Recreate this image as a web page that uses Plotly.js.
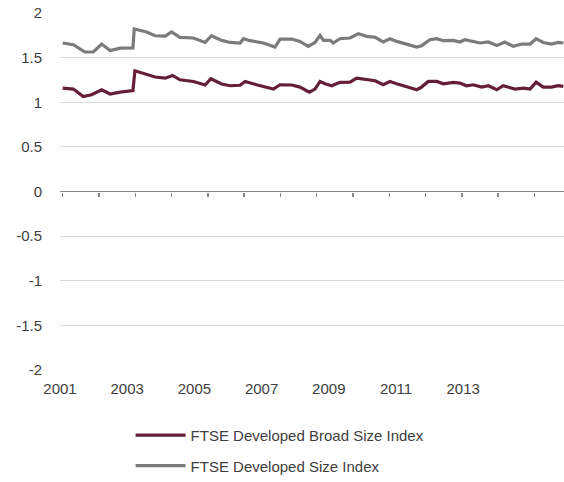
<!DOCTYPE html>
<html>
<head>
<meta charset="utf-8">
<script src="https://cdn.plot.ly/plotly-3.0.1.min.js"></script>
<style>html,body{margin:0;padding:0;background:#fff;}#chart{width:564px;height:482px;}</style>
</head>
<body>
<div id="chart"></div>
<script>
// Series: FTSE Developed Broad Size Index (fractional years, values)
const broadYears = [2001.08,2001.40,2001.69,2001.94,2002.24,2002.49,2002.79,2003.08,2003.17,2003.23,2003.58,2003.83,2004.13,2004.35,2004.57,2004.97,2005.32,2005.49,2005.81,2006.06,2006.36,2006.51,2006.85,2007.35,2007.55,2007.90,2008.14,2008.42,2008.59,2008.74,2008.89,2009.09,2009.33,2009.63,2009.83,2010.13,2010.38,2010.62,2010.82,2011.02,2011.32,2011.62,2011.76,2011.96,2012.21,2012.41,2012.71,2012.90,2013.10,2013.30,2013.55,2013.75,2014.00,2014.19,2014.54,2014.79,2014.99,2015.17,2015.38,2015.63,2015.83,2015.98];
const broadValues = [1.159,1.148,1.065,1.084,1.140,1.092,1.114,1.129,1.130,1.353,1.308,1.283,1.270,1.300,1.252,1.233,1.193,1.263,1.204,1.185,1.190,1.233,1.196,1.148,1.196,1.193,1.170,1.114,1.148,1.233,1.207,1.185,1.223,1.226,1.271,1.252,1.241,1.196,1.233,1.207,1.170,1.140,1.170,1.233,1.233,1.207,1.223,1.215,1.185,1.196,1.170,1.185,1.140,1.185,1.148,1.159,1.148,1.226,1.170,1.170,1.185,1.178];

// Series: FTSE Developed Size Index
const sizeYears = [2001.08,2001.40,2001.74,2001.99,2002.24,2002.49,2002.79,2003.08,2003.17,2003.21,2003.58,2003.83,2004.13,2004.32,2004.57,2004.97,2005.32,2005.51,2005.81,2006.06,2006.36,2006.46,2006.65,2007.05,2007.40,2007.55,2007.90,2008.14,2008.39,2008.59,2008.74,2008.84,2009.04,2009.13,2009.33,2009.63,2009.88,2010.13,2010.38,2010.62,2010.82,2011.02,2011.32,2011.62,2011.76,2012.01,2012.21,2012.41,2012.71,2012.90,2013.05,2013.25,2013.50,2013.75,2014.00,2014.24,2014.49,2014.74,2014.99,2015.17,2015.38,2015.63,2015.83,2015.98];
const sizeValues = [1.664,1.645,1.563,1.563,1.652,1.580,1.607,1.607,1.610,1.820,1.787,1.745,1.740,1.787,1.727,1.720,1.670,1.745,1.693,1.670,1.664,1.712,1.690,1.664,1.619,1.708,1.708,1.682,1.626,1.670,1.749,1.693,1.693,1.664,1.712,1.720,1.768,1.738,1.727,1.675,1.712,1.682,1.652,1.619,1.634,1.700,1.712,1.690,1.693,1.675,1.700,1.682,1.664,1.675,1.637,1.675,1.626,1.652,1.652,1.712,1.670,1.652,1.670,1.664];

// Axis labels
const yearTickVals = [2001,2003,2005,2007,2009,2011,2013];
const yearTickText = ['2001','2003','2005','2007','2009','2011','2013'];
const zeroLineTicks = [2001.08,2002.16,2003.24,2004.32,2005.40,2006.48,2007.56,2008.64,2009.72,2010.80,2011.88,2012.96,2014.04,2015.12];
const yTickVals = [-2,-1.5,-1,-0.5,0,0.5,1,1.5,2];
const yTickText = ['-2','-1.5','-1','-0.5','0','0.5','1','1.5','2'];

const seriesNames = ['FTSE Developed Broad Size Index','FTSE Developed Size Index'];
const seriesColors = ['#641e3a','#7a7b7c'];

const xRange = [2001, 2016.0];
const fontFam = 'Liberation Sans, Arial, sans-serif';
const textColor = '#404040';

const traces = [
  {x: broadYears, y: broadValues, type: 'scatter', mode: 'lines', name: seriesNames[0],
   legendgroup: 'a', line: {color: seriesColors[0], width: 3.2}, hoverinfo: 'skip'},
  {x: sizeYears, y: sizeValues, type: 'scatter', mode: 'lines', name: seriesNames[1],
   legendgroup: 'b', xaxis: 'x2', line: {color: seriesColors[1], width: 3.2}, hoverinfo: 'skip'}
];

const layout = {
  width: 564, height: 482,
  margin: {l: 60, r: 0, t: 13, b: 112},
  paper_bgcolor: '#ffffff', plot_bgcolor: '#ffffff',
  font: {family: fontFam, size: 15, color: textColor},
  showlegend: true,
  legend: {x: 0.14, y: -0.137, xanchor: 'left', yanchor: 'top', orientation: 'v',
           font: {family: fontFam, size: 15, color: textColor}, bgcolor: 'rgba(0,0,0,0)',
           tracegroupgap: 8, itemwidth: 50, traceorder: 'grouped'},
  xaxis: {range: xRange, tickmode: 'array', tickvals: yearTickVals, ticktext: yearTickText,
          showgrid: false, zeroline: false, showline: false,
          ticks: 'outside', ticklen: 5, tickcolor: 'rgba(0,0,0,0)',
          tickfont: {family: fontFam, size: 15, color: textColor}, fixedrange: true},
  xaxis2: {range: xRange, overlaying: 'x', anchor: 'free', position: 0.5,
           tickmode: 'array', tickvals: zeroLineTicks, showticklabels: false,
           ticks: 'outside', ticklen: 4, tickwidth: 1.5, tickcolor: '#868686',
           showgrid: false, zeroline: false, showline: false, fixedrange: true},
  yaxis: {range: [-2, 2], tickmode: 'array', tickvals: yTickVals, ticktext: yTickText,
          showgrid: true, gridcolor: '#d9d9d9', gridwidth: 1,
          zeroline: true, zerolinecolor: '#868686', zerolinewidth: 1.5,
          showline: false, ticks: 'outside', ticklen: 14, tickcolor: 'rgba(0,0,0,0)',
          tickfont: {family: fontFam, size: 15, color: textColor}, fixedrange: true}
};

Plotly.newPlot('chart', traces, layout, {displayModeBar: false, staticPlot: true});
</script>
</body>
</html>
